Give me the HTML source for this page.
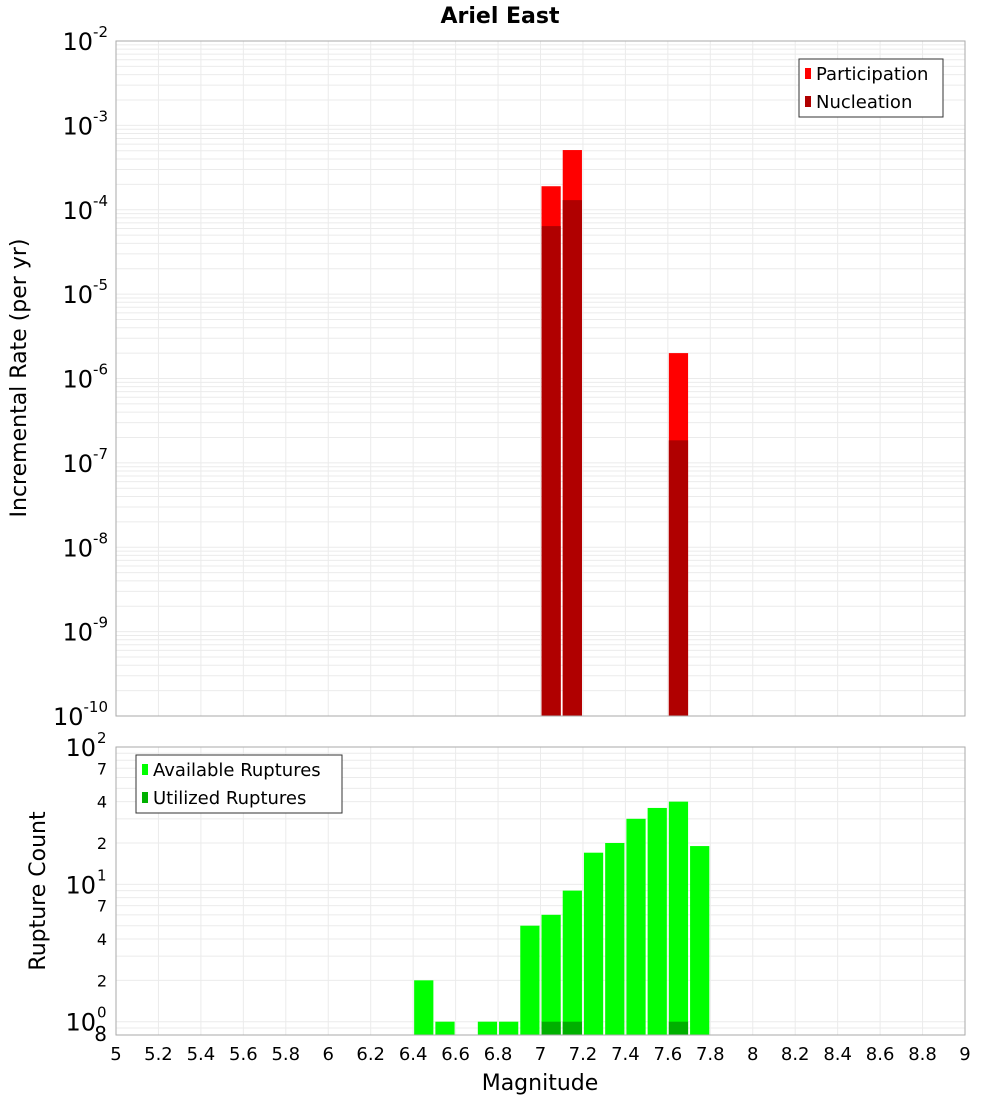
<!DOCTYPE html>
<html><head><meta charset="utf-8"><style>
body{margin:0;background:#fff;font-family:"DejaVu Sans","Liberation Sans",sans-serif}
svg{display:block}
</style></head><body>
<svg id="c" width="1000" height="1100" xmlns="http://www.w3.org/2000/svg"></svg>
<script>
const mags=[7.05,7.15,7.65];
const participation=[1.9e-4,5.1e-4,2.0e-6];
const nucleation=[6.4e-5,1.3e-4,1.85e-7];
const countMags=[6.45,6.55,6.75,6.85,6.95,7.05,7.15,7.25,7.35,7.45,7.55,7.65,7.75];
const available=[2,1,1,1,5,6,9,17,20,30,36,40,19];
const utilMags=[7.05,7.15,7.65];
const utilized=[1,1,1];
const xTicks=[5,5.2,5.4,5.6,5.8,6,6.2,6.4,6.6,6.8,7,7.2,7.4,7.6,7.8,8,8.2,8.4,8.6,8.8,9];

const NS="http://www.w3.org/2000/svg",svg=document.getElementById('c');
function mk(t,a,p){const e=document.createElementNS(NS,t);for(const k in a)e.setAttribute(k,a[k]);(p||svg).appendChild(e);return e;}
const X0=116,X1=965;
const x=v=>X0+(v-5)/4*(X1-X0);
const T0=41,T1=716;
const yT=v=>T0+(-2-Math.log10(v))/8*(T1-T0);
const B0=747,B1=1035,bMin=0.8,bMax=100;
const yB=v=>B0+(Math.log10(bMax)-Math.log10(v))/(Math.log10(bMax)-Math.log10(bMin))*(B1-B0);

// title
let t=mk('text',{x:500,y:23,'text-anchor':'middle','font-size':22,'font-weight':'bold'});t.textContent='Ariel East';


// grids top
const gT=mk('g',{});

for(let d=-10;d<-2;d++)for(let m=1;m<10;m++){const yy=yT(m*Math.pow(10,d));mk('line',{x1:X0,x2:X1,y1:yy,y2:yy,stroke:'#ebebeb','stroke-width':1},gT);}
xTicks.forEach(v=>mk('line',{x1:x(v),x2:x(v),y1:T0,y2:T1,stroke:'#ebebeb'},gT));
// grids bottom
const gB=mk('g',{});

[0.8,0.9,1,2,3,4,5,6,7,8,9,10,20,30,40,50,60,70,80,90].forEach(v=>{const yy=yB(v);mk('line',{x1:X0,x2:X1,y1:yy,y2:yy,stroke:'#ebebeb'},gB);});
xTicks.forEach(v=>mk('line',{x1:x(v),x2:x(v),y1:B0,y2:B1,stroke:'#ebebeb'},gB));

// top bars
const bw=x(5.1)-x(5)-2;
mags.forEach((m,i)=>{
 let r=mk('rect',{x:x(m)-bw/2,y:yT(participation[i]),width:bw,height:T1-yT(participation[i]),fill:'#ff0000'});
 
 r=mk('rect',{x:x(m)-bw/2,y:yT(nucleation[i]),width:bw,height:T1-yT(nucleation[i]),fill:'#b00000'});
 
});
// bottom bars
countMags.forEach((m,i)=>{
 const r=mk('rect',{x:x(m)-bw/2,y:yB(available[i]),width:bw,height:B1-yB(available[i]),fill:'#00ff00'});
 
});
utilMags.forEach((m,i)=>{
 const r=mk('rect',{x:x(m)-bw/2,y:yB(utilized[i]),width:bw,height:B1-yB(utilized[i]),fill:'#00b000'});
 
});

// frames
let f=mk('rect',{x:X0,y:T0,width:X1-X0,height:T1-T0,fill:'none',stroke:'#aaa'});

f=mk('rect',{x:X0,y:B0,width:X1-X0,height:B1-B0,fill:'none',stroke:'#aaa'});


// top y tick labels
for(let d=-10;d<=-2;d++){
 const yy=yT(Math.pow(10,d));
 const g=mk('text',{x:108,y:yy+9,'text-anchor':'end','font-size':24});
 
 const a=mk('tspan',{},g);a.textContent='10';
 const b=mk('tspan',{dy:-13,'font-size':15},g);b.textContent=String(d);
}
// bottom y tick labels
[[1,'0'],[10,'1'],[100,'2']].forEach(([v,e])=>{
 const yy=yB(v);
 const g=mk('text',{x:96,y:yy+9,'text-anchor':'end','font-size':24});
 
 g.textContent='10';
 const s=mk('text',{x:97,y:yy-4,'font-size':15});s.textContent=e;
 
});
[[2,'2'],[4,'4'],[7,'7'],[20,'2'],[40,'4'],[70,'7'],[0.8,'8']].forEach(([v,l])=>{
 const s=mk('text',{x:107,y:yB(v)+6,'text-anchor':'end','font-size':v==0.8?20:16});s.textContent=l;
 
});
// x tick labels
xTicks.forEach(v=>{
 const s=mk('text',{x:x(v),y:1060,'text-anchor':'middle','font-size':18});
 s.textContent=String(Math.round(v*10)/10);
 
});
t=mk('text',{x:540,y:1090,'text-anchor':'middle','font-size':22});t.textContent='Magnitude';

t=mk('text',{x:0,y:0,'text-anchor':'middle','font-size':22,transform:'translate(26,378) rotate(-90)'});t.textContent='Incremental Rate (per yr)';

t=mk('text',{x:0,y:0,'text-anchor':'middle','font-size':22,transform:'translate(45,891) rotate(-90)'});t.textContent='Rupture Count';


// legends
function legend(name,bx,by,w,items){
 const g=mk('g',{});
 mk('rect',{x:bx,y:by,width:w,height:58,fill:'#fff',stroke:'#333'},g);
 items.forEach(([lab,col],i)=>{
  mk('rect',{x:bx+6,y:by+9+i*28,width:6,height:11,fill:col},g);
  const s=mk('text',{x:bx+17,y:by+21+i*28,'font-size':18},g);s.textContent=lab;
  
 });
}
legend('top-legend',799,59,144,[['Participation','#ff0000'],['Nucleation','#b00000']]);
legend('bottom-legend',136,755,206,[['Available Ruptures','#00ff00'],['Utilized Ruptures','#00b000']]);
</script>
</body></html>
